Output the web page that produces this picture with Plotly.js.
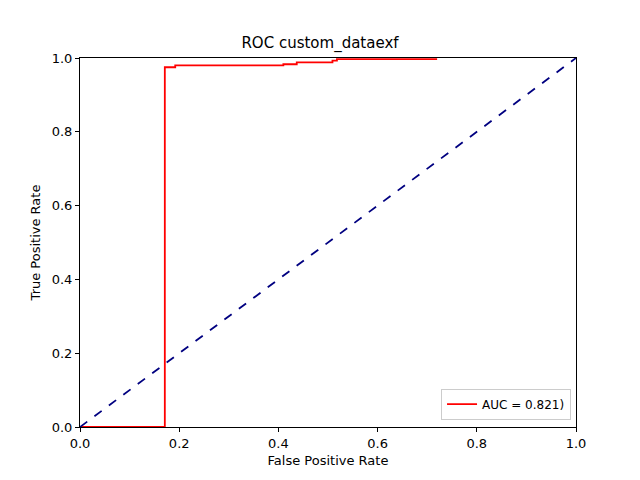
<!DOCTYPE html>
<html>
<head>
<script src="https://cdn.plot.ly/plotly-3.0.1.min.js"></script>
<style>body{margin:0}</style>
</head>
<body>
<div id="roc" style="width:640px;height:480px"></div>
<script>
// ROC points
const fpr = [0, 0.167, 0.171, 0.171, 0.192, 0.192, 0.410, 0.410, 0.437, 0.437, 0.509, 0.509, 0.518, 0.518, 0.720];
const tpr = [0, 0.000, 0.005, 0.975, 0.975, 0.980, 0.980, 0.983, 0.983, 0.988, 0.988, 0.993, 0.993, 0.997, 0.997];
const chanceX = [0, 1];
const chanceY = [0, 1];

const data = [
  {x: fpr, y: tpr, mode: 'lines', line: {color: 'red', width: 1.8, shape: 'hv'}, name: 'AUC = 0.821)'},
  {x: chanceX, y: chanceY, mode: 'lines', line: {color: 'navy', width: 1.8, dash: 'dash'}, showlegend: false}
];
const axis = {
  range: [0, 1], dtick: 0.2, tickformat: '.1f', showgrid: false, zeroline: false,
  showline: true, mirror: true, linecolor: 'black', linewidth: 1,
  ticks: 'outside', ticklen: 4, tickcolor: 'black', tickfont: {size: 13}
};
const layout = {
  width: 640, height: 480,
  margin: {l: 80, r: 64, t: 58, b: 53},
  font: {family: 'DejaVu Sans', color: 'black'},
  title: {text: 'ROC custom_dataexf', font: {size: 15}, y: 0.91, yanchor: 'middle'},
  xaxis: Object.assign({}, axis, {title: {text: 'False Positive Rate', font: {size: 13}, standoff: 6}}),
  yaxis: Object.assign({}, axis, {title: {text: 'True Positive Rate', font: {size: 13}, standoff: 8}}),
  legend: {x: 0.99, y: 0.02, xanchor: 'right', yanchor: 'bottom', bordercolor: '#ccc', borderwidth: 1, font: {size: 12}},
  plot_bgcolor: 'white', paper_bgcolor: 'white'
};
Plotly.newPlot('roc', data, layout, {displayModeBar: false});
</script>
</body>
</html>
